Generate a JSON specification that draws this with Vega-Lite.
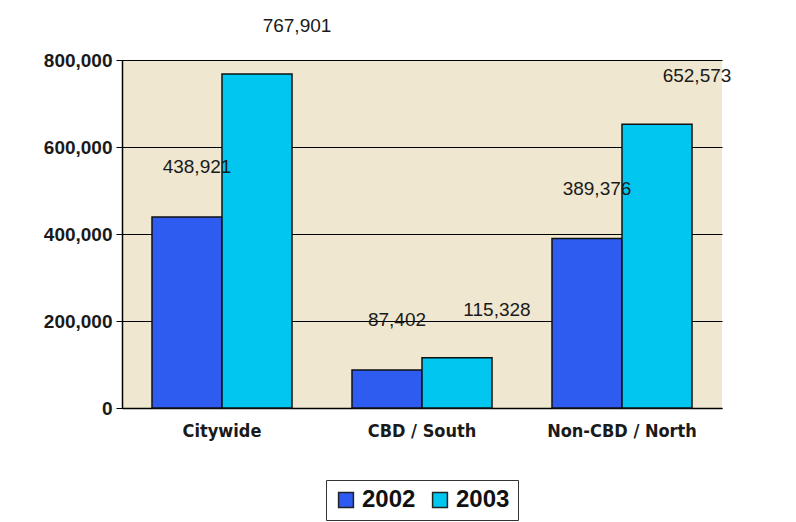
{
  "$schema": "https://vega.github.io/schema/vega-lite/v6.json",
  "width": 600,
  "height": 348,
  "autosize": "none",
  "padding": {"left": 122, "top": 60, "right": 74, "bottom": 114},
  "background": "white",
  "config": {
    "view": {"fill": "#efe7d0", "stroke": null},
    "font": "Liberation Sans"
  },
  "data": {
    "values": [
      {"area": "Citywide", "year": "2002", "value": 438921},
      {"area": "Citywide", "year": "2003", "value": 767901},
      {"area": "CBD / South", "year": "2002", "value": 87402},
      {"area": "CBD / South", "year": "2003", "value": 115328},
      {"area": "Non-CBD / North", "year": "2002", "value": 389376},
      {"area": "Non-CBD / North", "year": "2003", "value": 652573}
    ]
  },
  "encoding": {
    "x": {
      "field": "area",
      "type": "nominal",
      "sort": ["Citywide", "CBD / South", "Non-CBD / North"],
      "scale": {"paddingInner": 0.3, "paddingOuter": 0.15},
      "axis": {
        "title": null,
        "labelAngle": 0,
        "labelFont": "DejaVu Sans Condensed",
        "labelFontWeight": "bold",
        "labelFontSize": 18,
        "labelColor": "#1a1a1a",
        "labelPadding": 14,
        "ticks": false,
        "domainColor": "black",
        "domainWidth": 1.5
      }
    },
    "xOffset": {"field": "year", "type": "nominal"},
    "y": {
      "field": "value",
      "type": "quantitative",
      "scale": {"domain": [0, 800000]},
      "axis": {
        "title": null,
        "values": [0, 200000, 400000, 600000, 800000],
        "format": ",d",
        "labelFontWeight": "bold",
        "labelFontSize": 19,
        "labelColor": "#1a1a1a",
        "labelPadding": 4,
        "tickColor": "black",
        "tickSize": 6,
        "domainColor": "black",
        "domainWidth": 1.5,
        "gridColor": "black",
        "gridWidth": 1
      }
    }
  },
  "layer": [
    {
      "mark": {"type": "bar", "stroke": "#111", "strokeWidth": 1.5, "xOffset": 10},
      "encoding": {
        "color": {
          "field": "year",
          "type": "nominal",
          "scale": {"domain": ["2002", "2003"], "range": ["#2e5cf0", "#00c6f0"]},
          "legend": {
            "title": null,
            "orient": "none",
            "direction": "horizontal",
            "legendX": 204,
            "legendY": 420,
            "strokeColor": "#333",
            "padding": 8,
            "symbolType": "square",
            "symbolSize": 220,
            "symbolStrokeColor": "#222",
            "symbolStrokeWidth": 1.5,
            "symbolOpacity": 1,
            "labelFontSize": 24,
            "labelFontWeight": "bold",
            "labelColor": "#111",
            "columnPadding": 12,
            "labelOffset": 4
          }
        }
      }
    },
    {
      "transform": [{"filter": "datum.year === '2002'"}],
      "mark": {"type": "text", "baseline": "middle", "dy": -50, "dx": 10, "fontSize": 19, "color": "#1a1a1a"},
      "encoding": {
        "text": {"field": "value", "type": "quantitative", "format": ",d"}
      }
    },
    {
      "transform": [{"filter": "datum.year === '2003'"}],
      "mark": {"type": "text", "baseline": "middle", "dy": -48, "dx": 40, "fontSize": 19, "color": "#1a1a1a"},
      "encoding": {
        "text": {"field": "value", "type": "quantitative", "format": ",d"}
      }
    }
  ]
}
